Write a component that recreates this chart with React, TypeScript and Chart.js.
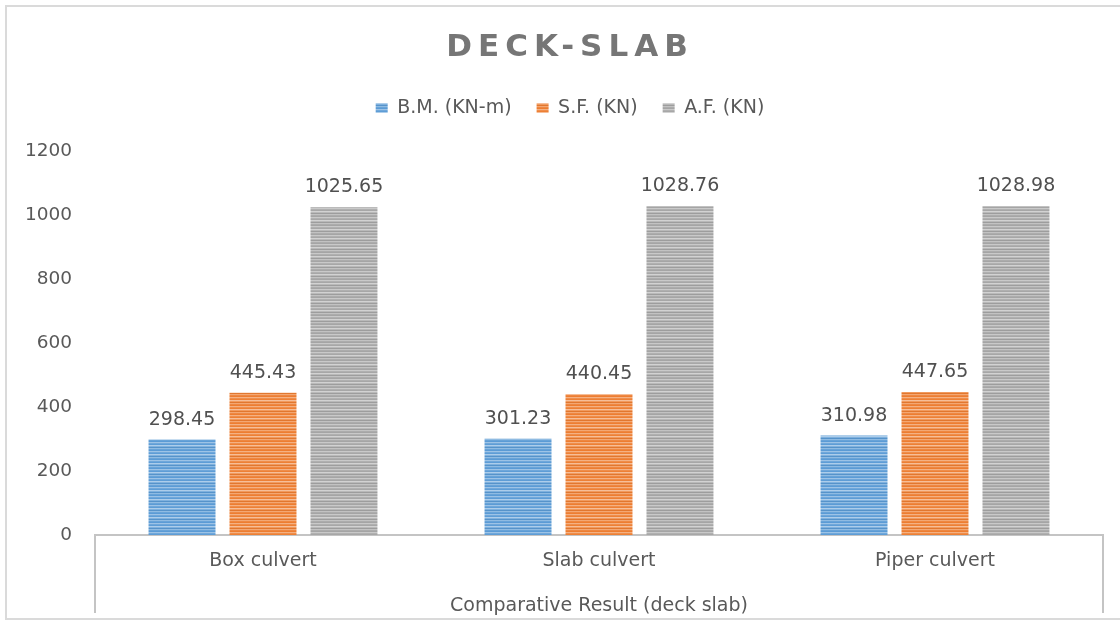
import React, { useEffect, useRef } from 'react';
import { Chart, registerables } from 'chart.js';

Chart.register(...registerables);

// ---- Data ----
const chartTitle = 'DECK-SLAB';
const categories = ['Box culvert', 'Slab culvert', 'Piper culvert'];
const groupTitle = 'Comparative Result (deck slab)';
const seriesLabels = ['B.M. (KN-m)', 'S.F. (KN)', 'A.F. (KN)'];
const bmValues = [298.45, 301.23, 310.98];
const sfValues = [445.43, 440.45, 447.65];
const afValues = [1025.65, 1028.76, 1028.98];
const yMin = 0;
const yMax = 1200;
const yStep = 200;

// ---- Styles ----
const FONT = '"DejaVu Sans", "Open Sans", sans-serif';
const seriesBase: [number, number, number][] = [
  [91, 155, 213],
  [237, 125, 49],
  [165, 165, 165],
];

function stripes(base: [number, number, number]): CanvasPattern | string {
  const c = document.createElement('canvas');
  c.width = 4;
  c.height = 9;
  const ctx = c.getContext('2d');
  if (!ctx) return `rgb(${base.join(',')})`;
  const mixes = [0, 0.4, 0.12, 0.02, 0.5, 0.22, -0.05, 0.32, 0.08];
  mixes.forEach((m, i) => {
    const col = base.map((v) =>
      m >= 0 ? Math.round(v + (255 - v) * m) : Math.round(v * (1 + m))
    );
    ctx.fillStyle = `rgb(${col.join(',')})`;
    ctx.fillRect(0, i, 4, 1);
  });
  return ctx.createPattern(c, 'repeat') || `rgb(${base.join(',')})`;
}

// Shift title / legend horizontally so they are centred on the framed figure,
// add letter spacing to the title and extra room under the legend.
const layoutTweaks = {
  id: 'layoutTweaks',
  beforeInit(chart: any) {
    const legend = chart.legend;
    if (legend) {
      const fit = legend.fit;
      legend.fit = function () {
        fit.call(this);
        this.height += 24;
      };
      const ldraw = legend.draw;
      legend.draw = function () {
        const ctx = chart.ctx;
        ctx.save();
        ctx.translate(18.5, 0);
        ldraw.call(this);
        ctx.restore();
      };
    }
    const tb = chart.titleBlock;
    if (tb) {
      const draw = tb.draw;
      tb.draw = function () {
        const ctx = chart.ctx;
        ctx.save();
        ctx.translate(18.5, 0);
        (ctx as any).letterSpacing = '6px';
        draw.call(this);
        ctx.restore();
      };
    }
  },
};

const axisBox = {
  id: 'axisBox',
  afterDraw(chart: any) {
    const x = chart.scales.x;
    const ctx = chart.ctx;
    ctx.save();
    ctx.strokeStyle = '#c4c4c4';
    ctx.lineWidth = 2;
    ctx.beginPath();
    [x.left, x.right].forEach((px: number) => {
      ctx.moveTo(px, x.top);
      ctx.lineTo(px, x.bottom - 8);
    });
    ctx.stroke();
    ctx.restore();
  },
};

const valueLabels = {
  id: 'valueLabels',
  afterDatasetsDraw(chart: any) {
    const ctx = chart.ctx;
    ctx.save();
    ctx.font = `19px ${FONT}`;
    ctx.fillStyle = '#505050';
    ctx.textAlign = 'center';
    ctx.textBaseline = 'alphabetic';
    chart.data.datasets.forEach((ds: any, di: number) => {
      const meta = chart.getDatasetMeta(di);
      meta.data.forEach((el: any, i: number) => {
        ctx.fillText(Number(ds.data[i]).toFixed(2), el.x, el.y - 15);
      });
    });
    ctx.restore();
  },
};

export default function App() {
  const ref = useRef<HTMLCanvasElement | null>(null);

  useEffect(() => {
    if (!ref.current) return;
    const allValues = [bmValues, sfValues, afValues];
    const chart = new Chart(ref.current, {
      type: 'bar',
      data: {
        labels: categories,
        datasets: allValues.map((vals, i) => ({
          label: seriesLabels[i],
          data: vals,
          backgroundColor: stripes(seriesBase[i]) as any,
          borderWidth: 0,
          categoryPercentage: 0.723,
          barPercentage: 0.827,
        })),
      },
      options: {
        responsive: false,
        animation: false,
        layout: { padding: { left: 0, right: 17, top: 0, bottom: 0 } },
        plugins: {
          title: {
            display: true,
            text: chartTitle,
            color: '#767676',
            font: { family: FONT, size: 31, weight: 'bold' },
            padding: { top: 29.5, bottom: 6.8 },
          },
          legend: {
            display: true,
            position: 'top',
            labels: {
              color: '#595959',
              font: { family: FONT, size: 19 },
              boxWidth: 12,
              boxHeight: 10,
              padding: 25,
            },
          },
          tooltip: { enabled: false },
        },
        scales: {
          x: {
            grid: { display: false, drawTicks: false },
            border: { display: true, color: '#c4c4c4', width: 2 },
            ticks: {
              color: '#595959',
              font: { family: FONT, size: 19 },
              padding: 15,
            },
            title: {
              display: true,
              text: groupTitle,
              color: '#595959',
              font: { family: FONT, size: 19 },
              padding: { top: 0, bottom: 4 },
            },
            afterFit: (scale: any) => {
              scale.height = 86;
            },
          },
          y: {
            min: yMin,
            max: yMax,
            grid: { display: false, drawTicks: false },
            border: { display: false },
            ticks: {
              stepSize: yStep,
              color: '#595959',
              font: { family: FONT, size: 18.5 },
              padding: 23,
              callback: (value: any) => String(value),
            },
            afterFit: (scale: any) => {
              scale.width = 95;
            },
          },
        },
      },
      plugins: [layoutTweaks, axisBox, valueLabels],
    });
    return () => chart.destroy();
  }, []);

  return (
    <div
      style={{
        position: 'fixed',
        left: 0,
        top: 0,
        width: 1120,
        height: 621,
        background: '#fff',
        overflow: 'hidden',
      }}
    >
      <div
        style={{
          position: 'absolute',
          left: 5,
          top: 5,
          width: 1130,
          height: 611,
          border: '2px solid #dadada',
        }}
      />
      <canvas
        ref={ref}
        width={1120}
        height={621}
        style={{ position: 'absolute', left: 0, top: 0, width: 1120, height: 621 }}
      />
    </div>
  );
}
